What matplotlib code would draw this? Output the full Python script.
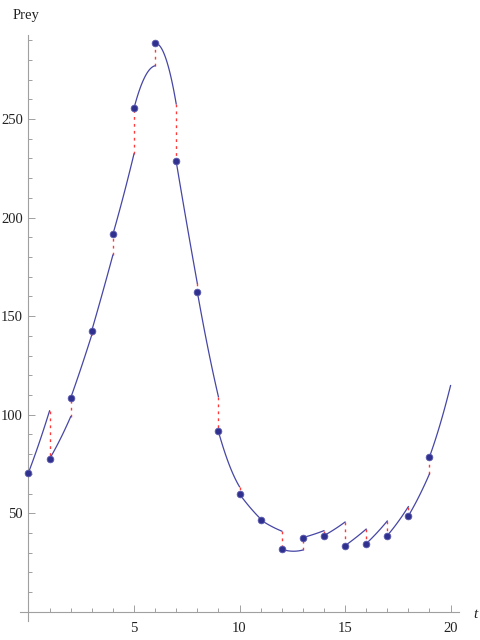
import numpy as np
import matplotlib
matplotlib.use("Agg")
import matplotlib.pyplot as plt
from matplotlib.ticker import MultipleLocator

# sampled prey counts at integer times
t_pts = list(range(20))
prey_pts = [70.6, 77.6, 108.5, 142.7, 191.5, 255.4, 288.4, 228.5, 162.4, 91.6,
            59.8, 46.7, 31.8, 37.7, 38.7, 33.6, 34.6, 38.7, 48.7, 78.6]
# model curve on each unit interval: value at the middle and at the end
seg_mid = [85.5, 87.5, 124.0, 161.5, 211.0, 271.0, 281.0, 197.0, 134.0, 75.0,
           53.0, 43.5, 30.8, 39.3, 41.9, 37.6, 40.0, 45.5, 58.5, 95.0]
seg_end = [102.0, 99.0, 140.5, 181.0, 232.3, 277.0, 257.7, 166.7, 109.2, 63.5,
           47.2, 41.0, 31.4, 41.2, 45.6, 42.0, 46.1, 53.4, 70.0, 114.8]

line_col = '#4646a6'
pt_col = '#30308e'
red_col = '#ff3a3a'
axis_col = '#a0a0a0'

fig = plt.figure(figsize=(4.8, 6.4), dpi=100)
ax = fig.add_axes([20 / 480, 1 - 621 / 640, 439 / 480, 586 / 640])

for k, t0 in enumerate(t_pts):
    # smooth curve through start, middle and end of the interval
    coef = np.polyfit([0, 0.5, 1], [prey_pts[k], seg_mid[k], seg_end[k]], 2)
    s = np.linspace(0, 1, 60)
    ax.plot(t0 + s, np.polyval(coef, s), color=line_col, lw=0.9, zorder=2)
    # jump to the next observation
    if k + 1 < len(t_pts):
        ax.plot([t0 + 1, t0 + 1], [seg_end[k], prey_pts[k + 1]], color=red_col,
                lw=1.0, ls=(0, (2, 3)), zorder=1)

ax.plot(t_pts, prey_pts, 'o', ms=4.8, color=pt_col, mec='#5a5ab0', mew=0.6, zorder=3)

ax.set_xlim(-0.4, 20.4)
ax.set_ylim(-4.6, 292.6)

for side in ['top', 'right']:
    ax.spines[side].set_visible(False)
ax.spines['left'].set_position(('data', 0))
ax.spines['bottom'].set_position(('data', 0))
for side in ['left', 'bottom']:
    ax.spines[side].set_color(axis_col)
    ax.spines[side].set_linewidth(0.8)

ax.xaxis.set_major_locator(MultipleLocator(5))
ax.xaxis.set_minor_locator(MultipleLocator(1))
ax.yaxis.set_major_locator(MultipleLocator(50))
ax.yaxis.set_minor_locator(MultipleLocator(10))
ax.set_xticks([5, 10, 15, 20])
ax.set_yticks([50, 100, 150, 200, 250])

ax.tick_params(which='both', direction='in', color=axis_col, width=0.7,
               labelsize=10.5, labelcolor='#222222')
ax.tick_params(which='major', length=5)
ax.tick_params(which='minor', length=3)
ax.tick_params(axis='x', which='major', pad=7)
ax.tick_params(axis='y', which='major', pad=4)
for lab in ax.get_xticklabels() + ax.get_yticklabels():
    lab.set_family('Liberation Serif')

fig.text(13 / 480, 1 - 16 / 640, 'Prey', family='Liberation Serif', fontsize=10.5,
         va='center', ha='left', color='#222222')
fig.text(475 / 480, 1 - 615 / 640, 't', family='Liberation Serif', style='italic',
         fontsize=11, va='center', ha='center', color='#222222')

fig.savefig('out.png', dpi=100, facecolor='white')
